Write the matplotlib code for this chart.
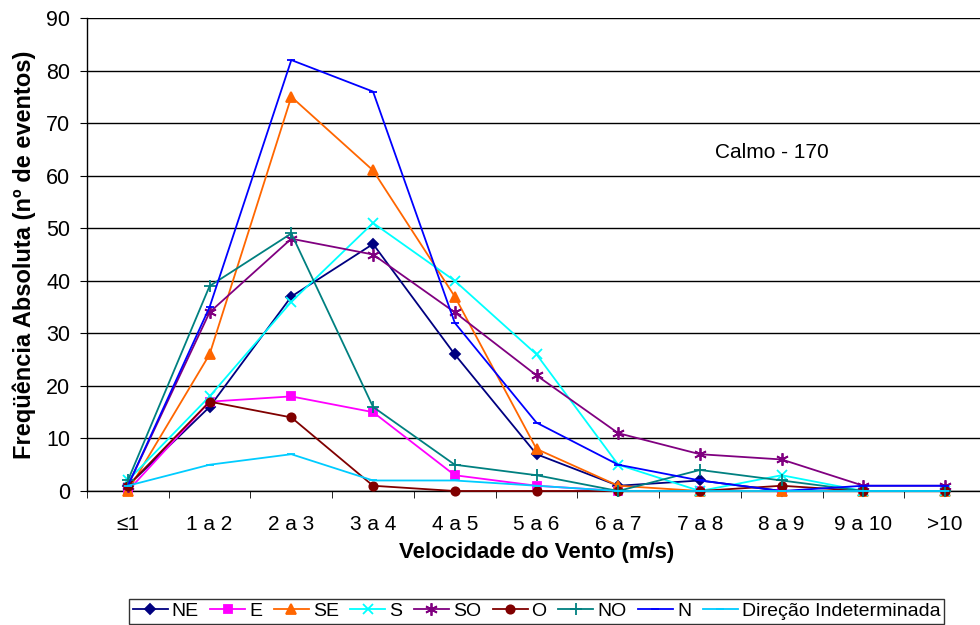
import matplotlib
matplotlib.use('Agg')
import matplotlib.pyplot as plt
import numpy as np

plt.rcParams['font.family'] = ['Liberation Sans', 'DejaVu Sans']

#wind speed classes and counts per direction
categorias = ['≤1', '1 a 2', '2 a 3', '3 a 4', '4 a 5', '5 a 6', '6 a 7', '7 a 8', '8 a 9', '9 a 10', '>10']
ne = [1, 16, 37, 47, 26, 7, 1, 2, 0, 0, 0]
e = [0, 17, 18, 15, 3, 1, 0, 0, 0, 0, 0]
se = [0, 26, 75, 61, 37, 8, 1, 0, 0, 0, 0]
s = [2, 18, 36, 51, 40, 26, 5, 0, 3, 0, 0]
so = [1, 34, 48, 45, 34, 22, 11, 7, 6, 1, 1]
o = [1, 17, 14, 1, 0, 0, 0, 0, 1, 0, 0]
no = [2, 39, 49, 16, 5, 3, 0, 4, 2, 0, 0]
n = [1, 35, 82, 76, 32, 13, 5, 2, 0, 1, 1]
indet = [1, 5, 7, 2, 2, 1, 0, 0, 0, 0, 0]

series = [
    ('NE', ne, '#000080', 'D', 5),
    ('E', e, '#FF00FF', 's', 6),
    ('SE', se, '#FF6600', '^', 7),
    ('S', s, '#00FFFF', 'x', 7),
    ('SO', so, '#800080', (6, 2, 0), 9),
    ('O', o, '#800000', 'o', 6),
    ('NO', no, '#008080', '+', 8),
    ('N', n, '#0000FF', '_', 6),
    ('Direção Indeterminada', indet, '#00CCFF', '_', 6),
]

fig = plt.figure(figsize=(9.8, 6.25), dpi=100)
ax = fig.add_axes([87 / 980, 134 / 625, 899 / 980, 473 / 625])

x = np.arange(len(categorias))
for nome, vals, cor, mk, ms in series:
    ax.plot(x, vals, color=cor, marker=mk, markersize=ms, linewidth=1.3,
            markeredgewidth=1.3, label=nome, clip_on=False, zorder=3)

ax.set_xlim(-0.5, len(categorias) - 0.5)
ax.set_ylim(0, 90)
ax.set_yticks(range(0, 91, 10))
ax.yaxis.grid(True, color='black', linewidth=1.0)
ax.set_axisbelow(True)
for sp in ['top', 'right']:
    ax.spines[sp].set_visible(False)
ax.spines['left'].set_linewidth(1.0)
ax.spines['bottom'].set_linewidth(1.0)

ax.set_xticks(x)
ax.set_xticklabels(categorias, fontsize=15)
ax.set_xticks(np.arange(-0.5, len(categorias), 1.0), minor=True)
ax.tick_params(axis='x', which='major', length=0, pad=17)
ax.tick_params(axis='x', which='minor', length=5, direction='out')
ax.tick_params(axis='y', labelsize=15.5, length=5, direction='out', pad=7)

ax.set_ylabel('Freqüência Absoluta (nº de eventos)', fontsize=17, fontweight='bold', labelpad=7)
ax.set_xlabel('Velocidade do Vento (m/s)', fontsize=16, fontweight='bold', labelpad=6)

ax.text(7.18, 64.4, 'Calmo - 170', fontsize=15, va='center', ha='left')

leg = fig.legend(loc='lower left', bbox_to_anchor=(128 / 980, 0.0, 817 / 980, 0.05),
                 mode='expand', ncol=9, fontsize=14, frameon=True, fancybox=False,
                 edgecolor='black', handlelength=1.8, handletextpad=0.2,
                 columnspacing=0.4, borderpad=0.2, borderaxespad=0.05)
leg.get_frame().set_linewidth(1.0)

fig.savefig('out.png', dpi=100)
